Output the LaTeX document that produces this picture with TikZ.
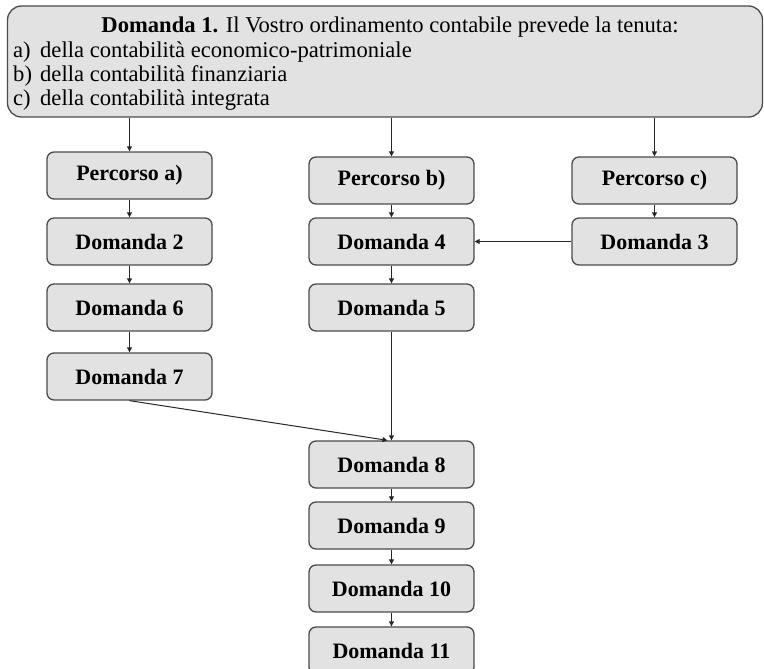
\documentclass[tikz,border=0pt]{standalone}
\usepackage{fontspec}
\setmainfont{Liberation Serif}
\usetikzlibrary{arrows.meta}
\definecolor{boxfill}{RGB}{226,226,226}
\definecolor{boxline}{RGB}{75,75,75}
\definecolor{conn}{RGB}{40,40,40}
\tikzset{
  stepbox/.style={draw=boxline, line width=1.3pt, fill=boxfill, rounded corners=7pt,
    minimum width=165pt, minimum height=47pt, inner sep=0pt,
    font=\fontsize{22}{24}\selectfont\bfseries},
  topbox/.style={draw=boxline, line width=1.3pt, fill=boxfill, rounded corners=14pt,
    minimum width=755pt, minimum height=111pt, inner sep=0pt},
  conn/.style={draw=conn, line width=1pt, -{Triangle[length=5pt,width=5pt]}},
  txt/.style={font=\fontsize{22.6}{24}\selectfont, inner sep=0pt}
}
\begin{document}
\begin{tikzpicture}[x=1pt,y=-1pt]
\useasboundingbox (0,0) rectangle (764,669);
\clip (0,0) rectangle (764,669);
% top box
\node[topbox] (q1) at (385,61.5) {};
\node[txt, anchor=base] (t0) at (390,32.5) {\textbf{Domanda 1.} Il Vostro ordinamento contabile prevede la tenuta:};
\node[txt, anchor=base west] (la) at (13,57.5) {a)};
\node[txt, anchor=base west] (ta) at (40,57.5) {della contabilità economico-patrimoniale};
\node[txt, anchor=base west] (lb) at (13,81.5) {b)};
\node[txt, anchor=base west] (tb) at (40,81.5) {della contabilità finanziaria};
\node[txt, anchor=base west] (lc) at (13,105.5) {c)};
\node[txt, anchor=base west] (tc) at (40,105.5) {della contabilità integrata};
% column a
\node[stepbox] (pa) at (129.5,175.5) {Percorso a)};
\node[stepbox] (d2) at (129.5,241.5) {Domanda 2};
\node[stepbox] (d6) at (129.5,307.5) {Domanda 6};
\node[stepbox] (d7) at (129.5,376.5) {Domanda 7};
% column b
\node[stepbox] (pb) at (391.5,180.5) {Percorso b)};
\node[stepbox] (d4) at (391.5,241.5) {Domanda 4};
\node[stepbox] (d5) at (391.5,307.5) {Domanda 5};
% column c
\node[stepbox] (pc) at (654.5,180.5) {Percorso c)};
\node[stepbox] (d3) at (654.5,241.5) {Domanda 3};
% bottom chain
\node[stepbox] (d8) at (391.5,464.5) {Domanda 8};
\node[stepbox] (d9) at (391.5,525.5) {Domanda 9};
\node[stepbox] (d10) at (391.5,588.5) {Domanda 10};
\node[stepbox] (d11) at (391.5,650.5) {Domanda 11};
% connectors
\draw[conn] (q1.south -| pa.north) -- (pa.north);
\draw[conn] (q1.south -| pb.north) -- (pb.north);
\draw[conn] (q1.south -| pc.north) -- (pc.north);
\draw[conn] (pa) -- (d2);
\draw[conn] (d2) -- (d6);
\draw[conn] (d6) -- (d7);
\draw[conn] (pb) -- (d4);
\draw[conn] (d4) -- (d5);
\draw[conn] (pc) -- (d3);
\draw[conn] (d3) -- (d4);
\draw[conn] (d5) -- (d8);
\draw[conn] (d7.south) -- ([xshift=-4pt]d8.north);
\draw[conn] (d8) -- (d9);
\draw[conn] (d9) -- (d10);
\draw[conn] (d10) -- (d11);
\end{tikzpicture}
\end{document}
